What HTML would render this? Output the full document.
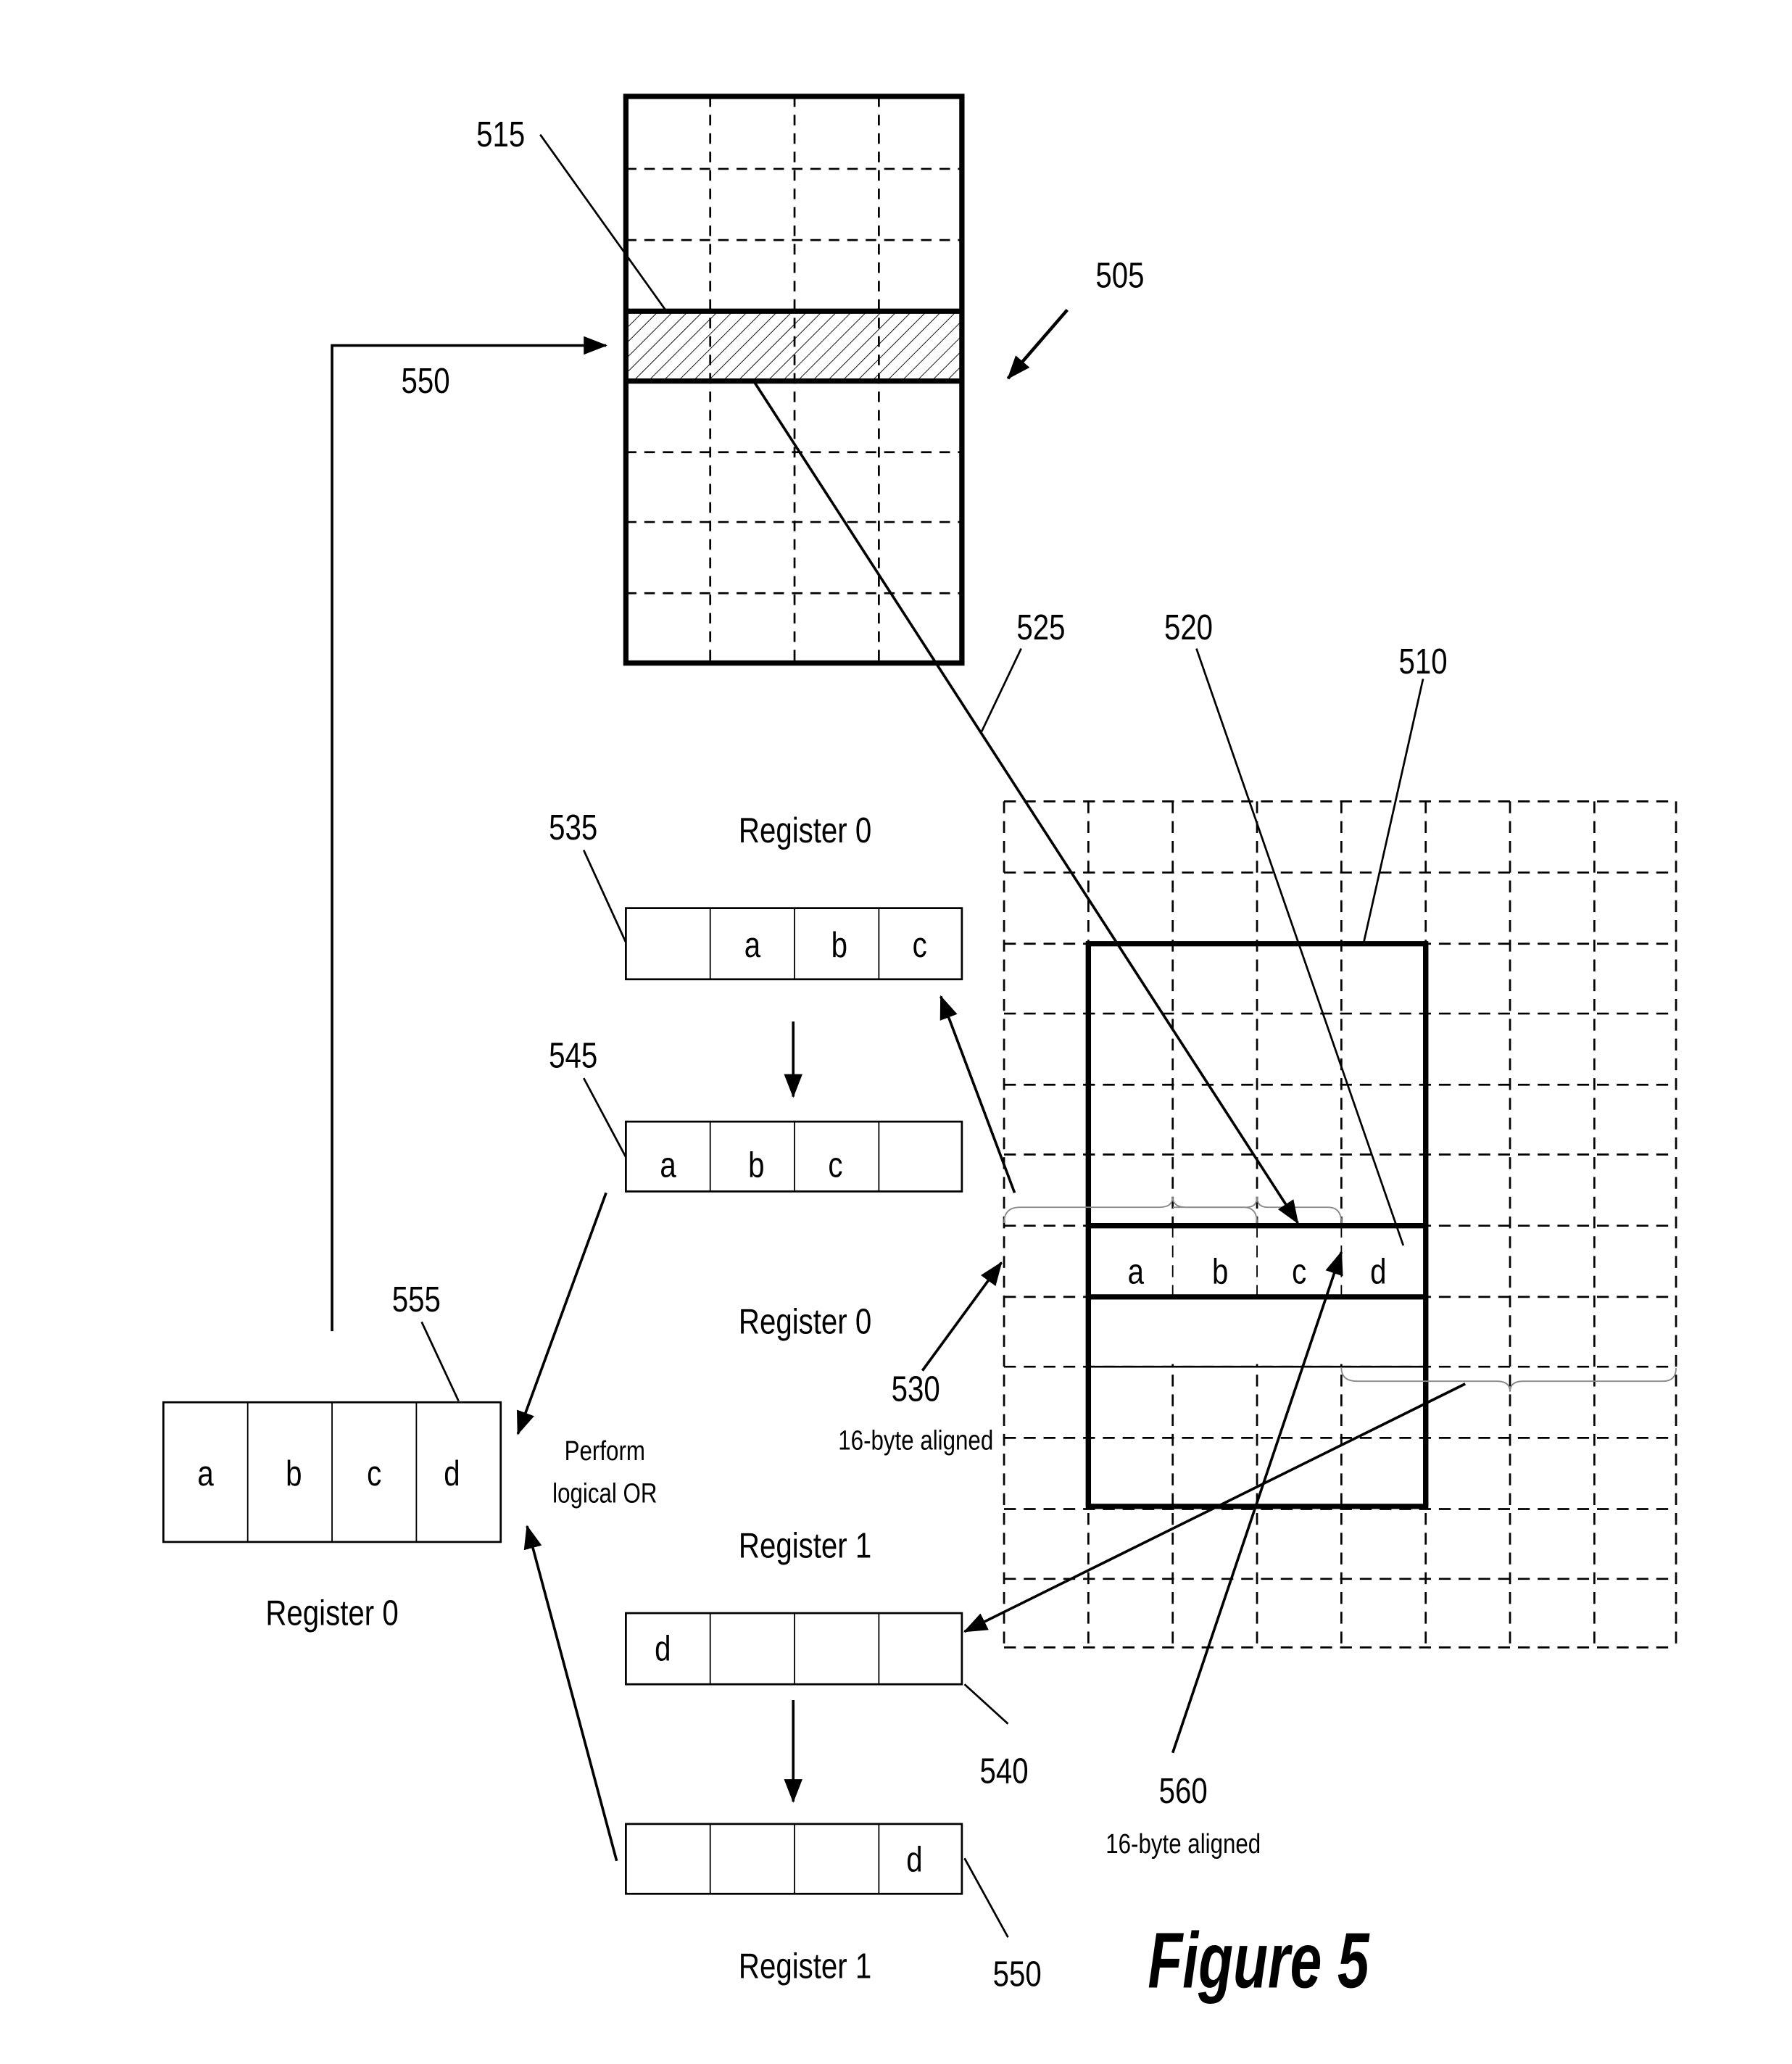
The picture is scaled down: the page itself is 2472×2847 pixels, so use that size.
<!DOCTYPE html>
<html><head><meta charset="utf-8"><style>
html,body{margin:0;padding:0;background:#fff}
svg{display:block}
text{font-family:"Liberation Sans",sans-serif;fill:#000;transform-box:fill-box;transform-origin:center;transform:scaleX(0.82)}
text.fig{transform:scaleX(0.72)}
</style></head><body>
<svg width="2472" height="2847" viewBox="0 0 1360 1566" xmlns="http://www.w3.org/2000/svg">
<defs>
<marker id="ahb" markerWidth="18" markerHeight="14" refX="17" refY="7" orient="auto" markerUnits="userSpaceOnUse">
<path d="M0,0 L18,7 L0,14 z" fill="#000"/></marker>
<pattern id="hatch" width="8" height="8" patternUnits="userSpaceOnUse" patternTransform="rotate(45)">
<line x1="0" y1="0" x2="0" y2="8" stroke="#000" stroke-width="1"/></pattern>
</defs>
<g stroke="#000" fill="none">
<rect x="475" y="236" width="255" height="53" fill="url(#hatch)" stroke="none"/>
<g stroke-dasharray="8,6" stroke-width="1.5">
<line x1="539" y1="73" x2="539" y2="503"/><line x1="603" y1="73" x2="603" y2="503"/><line x1="667" y1="73" x2="667" y2="503"/>
<line x1="475" y1="128" x2="730" y2="128"/><line x1="475" y1="182" x2="730" y2="182"/>
<line x1="475" y1="343" x2="730" y2="343"/><line x1="475" y1="396" x2="730" y2="396"/><line x1="475" y1="450" x2="730" y2="450"/>
</g>
<rect x="475" y="73" width="255" height="430" stroke-width="4"/>
<line x1="475" y1="236" x2="730" y2="236" stroke-width="4"/>
<line x1="475" y1="289" x2="730" y2="289" stroke-width="4"/>
<line x1="410" y1="102" x2="505" y2="235" stroke-width="1.5"/>
<line x1="810" y1="235" x2="765" y2="287" stroke-width="2.5" marker-end="url(#ahb)"/>
<polyline points="252,1010 252,262 460,262" stroke-width="2" marker-end="url(#ahb)"/>
<g stroke-dasharray="9,6" stroke-width="1.5">
<line x1="762" y1="608" x2="762" y2="1250"/><line x1="826" y1="608" x2="826" y2="1250"/><line x1="890" y1="608" x2="890" y2="1250"/><line x1="954" y1="608" x2="954" y2="1250"/><line x1="1018" y1="608" x2="1018" y2="1250"/><line x1="1082" y1="608" x2="1082" y2="1250"/><line x1="1146" y1="608" x2="1146" y2="1250"/><line x1="1210" y1="608" x2="1210" y2="1250"/><line x1="1272" y1="608" x2="1272" y2="1250"/>
<line x1="762" y1="608" x2="1272" y2="608"/><line x1="762" y1="662" x2="1272" y2="662"/><line x1="762" y1="716" x2="1272" y2="716"/><line x1="762" y1="769" x2="1272" y2="769"/><line x1="762" y1="823" x2="1272" y2="823"/><line x1="762" y1="876" x2="1272" y2="876"/><line x1="762" y1="930" x2="1272" y2="930"/><line x1="762" y1="984" x2="1272" y2="984"/><line x1="762" y1="1037" x2="1272" y2="1037"/><line x1="762" y1="1091" x2="1272" y2="1091"/><line x1="762" y1="1145" x2="1272" y2="1145"/><line x1="762" y1="1198" x2="1272" y2="1198"/><line x1="762" y1="1250" x2="1272" y2="1250"/>
</g>
<rect x="826" y="716" width="256" height="427" stroke-width="4" fill="none"/>
<rect x="826" y="930" width="256" height="54" fill="#fff" stroke="none"/>
<line x1="890" y1="930" x2="890" y2="984" stroke-width="1" stroke-dasharray="9,6"/>
<line x1="954" y1="930" x2="954" y2="984" stroke-width="1" stroke-dasharray="9,6"/>
<line x1="1018" y1="930" x2="1018" y2="984" stroke-width="1" stroke-dasharray="9,6"/>
<line x1="826" y1="930" x2="1082" y2="930" stroke-width="4"/>
<line x1="826" y1="984" x2="1082" y2="984" stroke-width="4"/>
<rect x="827" y="986" width="254" height="49" fill="#fff" stroke="none"/>
<line x1="826" y1="1037" x2="1082" y2="1037" stroke-width="1.5"/>
<line x1="826" y1="716" x2="826" y2="1143" stroke-width="4"/>
<line x1="1082" y1="716" x2="1082" y2="1143" stroke-width="4"/>
<path d="M762,928 q0,-12 12,-12 L880,916 q10,0 10,-8 q0,8 10,8 L944,916 q10,0 10,12" stroke-width="1" stroke="#888"/>
<path d="M890,916 L946,916 q8,0 8,-8 q0,8 8,8 L1008,916 q10,0 10,12" stroke-width="1" stroke="#888"/>
<path d="M1018,1038 q0,10 12,10 L1136,1048 q10,0 10,8 q0,-8 10,-8 L1262,1048 q10,0 10,-10" stroke-width="1" stroke="#888"/>
<line x1="572" y1="289" x2="985" y2="928" stroke-width="2" marker-end="url(#ahb)"/>
<line x1="775" y1="492" x2="745" y2="555" stroke-width="1.5"/>
<line x1="908" y1="492" x2="1065" y2="945" stroke-width="1.5"/>
<line x1="1080" y1="515" x2="1035" y2="715" stroke-width="1.5"/>
<rect x="475" y="689" width="255" height="54" stroke-width="1.5"/>
<line x1="539" y1="689" x2="539" y2="743"/><line x1="603" y1="689" x2="603" y2="743"/><line x1="667" y1="689" x2="667" y2="743"/>
<rect x="475" y="851" width="255" height="53" stroke-width="1.5"/>
<line x1="539" y1="851" x2="539" y2="904"/><line x1="603" y1="851" x2="603" y2="904"/><line x1="667" y1="851" x2="667" y2="904"/>
<rect x="475" y="1224" width="255" height="54" stroke-width="1.5"/>
<line x1="539" y1="1224" x2="539" y2="1278"/><line x1="603" y1="1224" x2="603" y2="1278"/><line x1="667" y1="1224" x2="667" y2="1278"/>
<rect x="475" y="1384" width="255" height="53" stroke-width="1.5"/>
<line x1="539" y1="1384" x2="539" y2="1437"/><line x1="603" y1="1384" x2="603" y2="1437"/><line x1="667" y1="1384" x2="667" y2="1437"/>
<rect x="124" y="1064" width="256" height="106" stroke-width="1.5"/>
<line x1="188" y1="1064" x2="188" y2="1170"/><line x1="252" y1="1064" x2="252" y2="1170"/><line x1="316" y1="1064" x2="316" y2="1170"/>
<line x1="443" y1="645" x2="475" y2="715" stroke-width="1.5"/>
<line x1="443" y1="818" x2="475" y2="878" stroke-width="1.5"/>
<line x1="320" y1="1003" x2="348" y2="1063" stroke-width="1.5"/>
<line x1="732" y1="1278" x2="765" y2="1308" stroke-width="1.5"/>
<line x1="732" y1="1410" x2="765" y2="1470" stroke-width="1.5"/>
<line x1="602" y1="775" x2="602" y2="832" stroke-width="2" marker-end="url(#ahb)"/>
<line x1="602" y1="1290" x2="602" y2="1367" stroke-width="2" marker-end="url(#ahb)"/>
<line x1="460" y1="905" x2="393" y2="1088" stroke-width="2" marker-end="url(#ahb)"/>
<line x1="468" y1="1412" x2="400" y2="1158" stroke-width="2" marker-end="url(#ahb)"/>
<line x1="700" y1="1040" x2="760" y2="958" stroke-width="2" marker-end="url(#ahb)"/>
<line x1="770" y1="905" x2="714" y2="756" stroke-width="2" marker-end="url(#ahb)"/>
<line x1="1112" y1="1050" x2="732" y2="1238" stroke-width="2" marker-end="url(#ahb)"/>
<line x1="890" y1="1330" x2="1018" y2="950" stroke-width="2" marker-end="url(#ahb)"/>
</g>
<g font-size="27" text-anchor="middle">
<text x="380" y="111">515</text>
<text x="850" y="218">505</text>
<text x="323" y="298">550</text>
<text x="790" y="485">525</text>
<text x="902" y="485">520</text>
<text x="1080" y="511">510</text>
<text x="435" y="637">535</text>
<text x="435" y="810">545</text>
<text x="316" y="995">555</text>
<text x="695" y="1063">530</text>
<text x="762" y="1353">540</text>
<text x="898" y="1368">560</text>
<text x="772" y="1507">550</text>
<text x="611" y="639">Register 0</text>
<text x="611" y="1012">Register 0</text>
<text x="252" y="1233">Register 0</text>
<text x="611" y="1182">Register 1</text>
<text x="611" y="1501">Register 1</text>
<text x="571" y="726">a</text><text x="637" y="726">b</text><text x="698" y="726">c</text>
<text x="507" y="893">a</text><text x="574" y="893">b</text><text x="634" y="893">c</text>
<text x="503" y="1260">d</text>
<text x="694" y="1420">d</text>
<text x="156" y="1127">a</text><text x="223" y="1127">b</text><text x="284" y="1127">c</text><text x="343" y="1127">d</text>
<text x="862" y="974">a</text><text x="926" y="974">b</text><text x="986" y="974">c</text><text x="1046" y="974">d</text>
</g>
<g font-size="21" text-anchor="middle">
<text x="459" y="1108">Perform</text>
<text x="459" y="1140">logical OR</text>
<text x="695" y="1100">16-byte aligned</text>
<text x="898" y="1406">16-byte aligned</text>
</g>
<text class="fig" x="955" y="1508" font-size="60" font-weight="bold" font-style="italic" text-anchor="middle">Figure 5</text>
</svg>
</body></html>
